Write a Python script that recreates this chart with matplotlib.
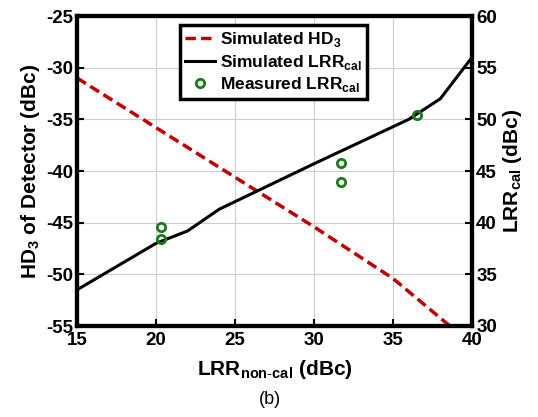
import matplotlib
matplotlib.use("Agg")
import matplotlib.pyplot as plt
from matplotlib.lines import Line2D

plt.rcParams['font.family'] = ['Liberation Sans', 'DejaVu Sans']
plt.rcParams['mathtext.fontset'] = 'custom'
plt.rcParams['mathtext.rm'] = 'Liberation Sans'
plt.rcParams['mathtext.bf'] = 'Liberation Sans:bold'
plt.rcParams['axes.unicode_minus'] = False

# Simulated HD3 (left axis)
hd3_x = [15, 20, 25, 30, 35, 38.6, 40]
hd3_y = [-31.0, -35.8, -40.6, -45.4, -50.4, -55.0, -56.8]

# Simulated LRR_cal (right axis)
sim_x = [15, 20, 22, 24, 30, 36, 38, 40]
sim_y = [33.5, 38.0, 39.2, 41.3, 45.7, 50.0, 52.0, 56.0]

# Measured LRR_cal (right axis)
meas_x = [20.3, 20.3, 31.7, 31.7, 36.5]
meas_y = [39.6, 38.4, 45.8, 43.9, 50.4]

xticks = [15, 20, 25, 30, 35, 40]
lticks = [-55, -50, -45, -40, -35, -30, -25]
rticks = [30, 35, 40, 45, 50, 55, 60]

fig = plt.figure(figsize=(5.38, 4.17), dpi=100)
ax = fig.add_axes([77/538, 1-326/417, (472-77)/538, (326-16)/417])
ax2 = ax.twinx()

dash = (0, (3.0, 1.5))
red, = ax.plot(hd3_x, hd3_y, color='#c00000', lw=2.5, ls=dash)
ax.set_xlim(15, 40)
ax.set_ylim(-55, -25)
ax.set_xticks(xticks)
ax.set_yticks(lticks)
ax.grid(True, color='#cccccc', lw=0.8)

blk, = ax2.plot(sim_x, sim_y, color='black', lw=2.2)
ax2.plot(meas_x, meas_y, ls='none', marker='o', ms=6, mfc='none', mec='#1a7a1a', mew=2)
ax2.set_ylim(30, 60)
ax2.set_yticks(rticks)

for a in (ax, ax2):
    for s in a.spines.values():
        s.set_linewidth(3)
    a.tick_params(direction='in', length=5, width=1.5, labelsize=13.5)
    for lab in a.get_xticklabels() + a.get_yticklabels():
        lab.set_fontweight('bold')
ax.tick_params(axis='x', pad=4)
ax.tick_params(axis='y', pad=3)
ax2.tick_params(axis='y', pad=3)

ax.set_xlabel('LRR$_{\\mathregular{non\\text{-}cal}}$ (dBc)', fontsize=15, fontweight='bold', labelpad=7)
ax.set_ylabel('HD$_{\\mathregular{3}}$ of Detector (dBc)', fontsize=15, fontweight='bold', labelpad=3)
ax2.set_ylabel('LRR$_{\\mathregular{cal}}$ (dBc)', fontsize=15, fontweight='bold', labelpad=3)

handles = [
    Line2D([], [], color='#c00000', lw=2.5, ls=dash),
    Line2D([], [], color='black', lw=2.2),
    Line2D([], [], ls='none', marker='o', ms=6, mfc='none', mec='#1a7a1a', mew=2),
]
labels = ['Simulated HD$_{\\mathregular{3}}$', 'Simulated LRR$_{\\mathregular{cal}}$', 'Measured LRR$_{\\mathregular{cal}}$']
leg = ax2.legend(handles, labels, loc='upper left', bbox_to_anchor=((180-77)/395, 1-(25-16)/310),
                 fancybox=False, framealpha=1, edgecolor='black', prop={'weight': 'bold', 'size': 12.5},
                 handlelength=1.7, handletextpad=0.3, borderpad=0.3, labelspacing=0.2, borderaxespad=0)
leg.get_frame().set_linewidth(2.5)

fig.text(270/538, 1-400/417, '(b)', ha='center', va='center', fontsize=13)

fig.savefig('out.png', dpi=100)
